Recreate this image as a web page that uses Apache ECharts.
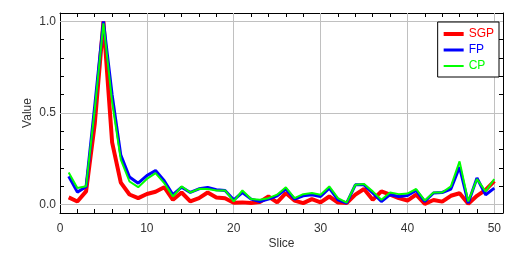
<!DOCTYPE html>
<html>
<head>
<meta charset="utf-8">
<script src="https://cdn.jsdelivr.net/npm/echarts@6/dist/echarts.min.js"></script>
<style>
html,body{margin:0;padding:0;background:#fff;}
#chart{width:530px;height:255px;}
</style>
</head>
<body>
<div id="chart"></div>
<script>
const slices = [1,2,3,4,5,6,7,8,9,10,11,12,13,14,15,16,17,18,19,20,21,22,23,24,25,26,27,28,29,30,31,32,33,34,35,36,37,38,39,40,41,42,43,44,45,46,47,48,49,50];
const sgp = [0.039,0.017,0.072,0.44,1.0,0.34,0.12,0.055,0.035,0.058,0.07,0.095,0.026,0.066,0.017,0.035,0.066,0.039,0.035,0.01,0.012,0.008,0.014,0.044,0.012,0.063,0.022,0.008,0.03,0.012,0.044,0.011,0.008,0.054,0.085,0.026,0.072,0.054,0.035,0.022,0.054,0.004,0.025,0.016,0.048,0.062,0.004,0.048,0.08,0.128];
const fp = [0.154,0.068,0.097,0.54,1.0,0.6,0.27,0.15,0.117,0.158,0.186,0.13,0.054,0.095,0.066,0.086,0.094,0.081,0.077,0.026,0.066,0.03,0.017,0.03,0.048,0.085,0.03,0.048,0.054,0.044,0.09,0.026,0.008,0.108,0.108,0.063,0.017,0.054,0.044,0.05,0.077,0.017,0.063,0.066,0.085,0.205,0.008,0.145,0.054,0.09];
const cp = [0.175,0.09,0.1,0.52,0.99,0.56,0.245,0.126,0.095,0.14,0.172,0.117,0.044,0.099,0.066,0.086,0.085,0.077,0.077,0.017,0.077,0.03,0.026,0.035,0.054,0.094,0.035,0.057,0.063,0.054,0.099,0.035,0.011,0.108,0.112,0.072,0.026,0.066,0.057,0.06,0.085,0.022,0.066,0.066,0.099,0.236,0.017,0.139,0.072,0.139];
const xTicks = [0,2,4,6,8,10,12,14,16,18,20,22,24,26,28,30,32,34,36,38,40,42,44,46,48,50];
const xLabels = [0,10,20,30,40,50];
const yTicks = [0,0.1,0.2,0.3,0.4,0.5,0.6,0.7,0.8,0.9,1.0];
const yLabels = [0,0.5,1.0];
const xGrid = [10,20,30,40,50];
const yGrid = [0,0.5,1.0];

const font = 'Liberation Sans, Arial, sans-serif';
const txt = '#333';
const axisLineStyle = {show:true, onZero:false, lineStyle:{color:'#000', width:1}};
function xAx(pos, withLabels){
  return {
    type:'value', position:pos, min:0, max:51,
    axisLine: axisLineStyle,
    axisTick:{show:true, inside:true, length:4, customValues:xTicks, lineStyle:{color:'#000'}},
    axisLabel: withLabels ? {show:true, customValues:xLabels, margin:10, color:txt, fontSize:12, fontFamily:font, formatter:v=>String(v)} : {show:false},
    splitLine:{show:false},
    name: withLabels ? 'Slice' : '', nameLocation:'middle', nameGap:25, nameMoveOverlap:false,
    nameTextStyle:{color:txt, fontSize:12, fontFamily:font}
  };
}
function yAx(pos, withLabels){
  return {
    type:'value', position:pos, min:-0.046, max:1.046,
    axisLine: axisLineStyle,
    axisTick:{show:true, inside:true, length:4, customValues:yTicks, lineStyle:{color:'#000'}},
    axisLabel: withLabels ? {show:true, customValues:yLabels, margin:4, color:txt, fontSize:12, fontFamily:font, formatter:v=>v.toFixed(1)} : {show:false},
    splitLine:{show:false},
    name: withLabels ? 'Value' : '', nameLocation:'middle', nameGap:26, nameRotate:90, nameMoveOverlap:false,
    nameTextStyle:{color:txt, fontSize:12, fontFamily:font}
  };
}
const toPairs = arr => slices.map((s,i)=>[s, arr[i]]);
const gridLines = xGrid.map(v=>({xAxis:v})).concat(yGrid.map(v=>({yAxis:v})));

const chart = echarts.init(document.getElementById('chart'), null, {renderer:'canvas'});
chart.setOption({
  animation:false,
  backgroundColor:'#fff',
  grid:{left:60, right:27, top:13, bottom:42, show:false},
  xAxis:[xAx('bottom', true), xAx('top', false)],
  yAxis:[yAx('left', true), yAx('right', false)],
  legend:{
    orient:'vertical', right:31, top:22,
    backgroundColor:'#fff', borderColor:'#000', borderWidth:1, borderRadius:0,
    padding:[6,5,5,6], itemWidth:20, itemHeight:12, itemGap:4,
    textStyle:{fontSize:12, fontFamily:font},
    data:[
      {name:'SGP', icon:'path://M0,0h20v4h-20z', itemStyle:{color:'#ff0000', borderWidth:0}, textStyle:{color:'#ff0000'}},
      {name:'FP', icon:'path://M0,0h20v3h-20z', itemStyle:{color:'#0000ff', borderWidth:0}, textStyle:{color:'#0000ff'}},
      {name:'CP', icon:'path://M0,0h20v2h-20z', itemStyle:{color:'#00ff00', borderWidth:0}, textStyle:{color:'#00ff00'}}
    ]
  },
  series:[
    {name:'SGP', type:'line', data:toPairs(sgp), symbol:'none', showSymbol:false, color:'#ff0000',
     lineStyle:{width:4, color:'#ff0000'}, z:2,
     markLine:{silent:true, z:1, symbol:['none','none'], label:{show:false}, animation:false,
       lineStyle:{color:'#c0c0c0', type:'solid', width:1}, emphasis:{disabled:true}, data:gridLines}},
    {name:'FP', type:'line', data:toPairs(fp), symbol:'none', showSymbol:false, color:'#0000ff',
     lineStyle:{width:3, color:'#0000ff'}, z:3},
    {name:'CP', type:'line', data:toPairs(cp), symbol:'none', showSymbol:false, color:'#00ff00',
     lineStyle:{width:2, color:'#00ff00'}, z:4}
  ]
});
</script>
</body>
</html>
